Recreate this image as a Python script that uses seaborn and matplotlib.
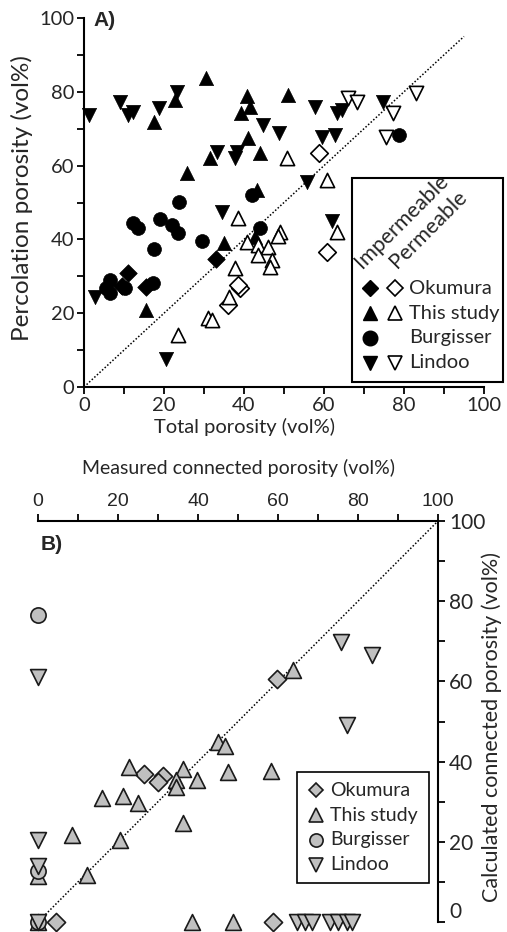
import numpy as np
import pandas as pd
import matplotlib
matplotlib.use("Agg")
import matplotlib.pyplot as plt
import seaborn as sns
from matplotlib.lines import Line2D
from matplotlib.patches import Rectangle

# ---------------- Panel A data (total porosity, percolation porosity) ----------------
oku_imp_x = [11.0, 9.5, 15.5, 33.0]
oku_imp_y = [30.9, 27.5, 27.0, 34.7]
oku_perm_x = [58.8, 60.8, 39.0, 38.5, 36.0]
oku_perm_y = [63.4, 36.6, 26.8, 27.6, 22.2]

this_imp_x = [22.8, 30.5, 17.5, 40.7, 41.5, 39.3, 51.0, 41.0, 31.5, 44.0, 25.7, 43.2, 42.8, 35.0, 15.5]
this_imp_y = [77.8, 83.7, 71.8, 78.9, 75.9, 74.3, 79.1, 67.5, 62.0, 63.4, 58.0, 53.4, 40.6, 39.0, 20.9]
this_perm_x = [50.7, 38.5, 60.7, 63.3, 49.0, 48.5, 40.7, 43.5, 46.0, 43.5, 47.0, 46.5, 37.7, 36.3, 31.0, 32.0, 23.5]
this_perm_y = [62.0, 45.8, 56.1, 42.0, 42.0, 41.0, 39.3, 38.5, 38.0, 35.8, 34.4, 32.5, 32.2, 24.4, 18.7, 18.2, 14.1]

burg_x = [12.3, 13.5, 19.0, 22.0, 23.5, 29.5, 17.5, 23.8, 42.0, 44.0, 6.5, 5.5, 6.5, 10.3, 17.3, 78.8]
burg_y = [44.4, 43.0, 45.5, 43.9, 41.7, 39.6, 37.4, 50.1, 52.0, 43.0, 29.0, 26.8, 25.5, 26.8, 28.2, 68.3]

lin_imp_x = [1.25, 9.0, 11.0, 12.3, 18.8, 23.3, 44.8, 48.8, 33.2, 38.2, 37.8, 34.5, 57.8, 63.2, 64.5,
             74.8, 59.5, 62.8, 55.8, 62.0, 20.5, 2.7]
lin_imp_y = [73.7, 77.2, 73.7, 74.5, 75.6, 80.0, 71.0, 68.8, 63.7, 63.7, 62.0, 47.4, 75.9, 74.3, 75.0,
             77.2, 67.8, 68.3, 55.6, 45.0, 7.6, 24.4]
lin_perm_x = [66.0, 68.2, 77.2, 83.0, 75.5]
lin_perm_y = [78.3, 77.2, 74.3, 79.7, 67.8]

# ---------------- Panel B data (measured vs calculated connected porosity) ----------------
okuB_x = [59.8, 26.5, 31.3, 30.0, 4.5, 58.8]
okuB_y = [60.6, 36.8, 36.5, 34.8, 0.0, 0.0]
thisB_x = [63.7, 45.0, 46.8, 47.5, 22.8, 36.3, 34.5, 34.4, 39.7, 16.0, 21.3, 25.0, 36.2, 8.5, 20.5,
           12.2, 58.2, 0.0, 0.0, 38.5, 48.8]
thisB_y = [62.8, 44.8, 44.0, 37.4, 38.7, 38.2, 35.4, 33.6, 35.4, 30.9, 31.4, 29.7, 24.7, 21.8, 20.4,
           11.7, 37.6, 11.5, 0.0, 0.0, 0.0]
burgB_x = [0.0, 0.0, 0.0]
burgB_y = [76.6, 12.8, 0.0]
linB_x = [0.0, 75.8, 83.5, 77.2, 0.0, 0.0, 0.0, 64.7, 66.8, 68.5, 73.0, 75.0, 77.2, 78.5]
linB_y = [61.1, 69.8, 66.6, 49.1, 20.4, 14.0, 0.0, 0.0, 0.0, 0.0, 0.0, 0.0, 0.0, 0.0]

ticks = [0, 20, 40, 60, 80, 100]
minor = [10, 30, 50, 70, 90]
labels_src = ["Okumura", "This study", "Burgisser", "Lindoo"]
markers = {"Okumura": "D", "This study": "^", "Burgisser": "o", "Lindoo": "v"}
sizes_A = {"Okumura": 80, "This study": 105, "Burgisser": 100, "Lindoo": 105}
sizes_B = {"Okumura": 85, "This study": 130, "Burgisser": 120, "Lindoo": 130}

sns.set_style("white")
plt.rcParams['font.family'] = ['Lato', 'DejaVu Sans']

W, H = 507, 932
fig = plt.figure(figsize=(W / 100, H / 100), dpi=100)


def P(px, py):
    return (px / W, 1 - py / H)


axA = fig.add_axes([84 / W, 1 - 387 / H, 400 / W, 369 / H])
axB = fig.add_axes([38 / W, 1 - 922 / H, 400 / W, 401 / H])

# ---- Panel A ----
groupsA = [
    ("Okumura", oku_imp_x, oku_imp_y, True), ("Okumura", oku_perm_x, oku_perm_y, False),
    ("This study", this_imp_x, this_imp_y, True), ("This study", this_perm_x, this_perm_y, False),
    ("Burgisser", burg_x, burg_y, True),
    ("Lindoo", lin_imp_x, lin_imp_y, True), ("Lindoo", lin_perm_x, lin_perm_y, False),
]
axA.plot([0, 95], [0, 95], color="black", lw=1.1, ls=(0, (1, 1.3)), zorder=1)
for src, xs, ys, filled in groupsA:
    df = pd.DataFrame({"x": xs, "y": ys})
    sns.scatterplot(data=df, x="x", y="y", ax=axA, marker=markers[src], s=sizes_A[src],
                    color="black" if filled else "white", edgecolor="black",
                    linewidth=0.5 if filled else 1.2, clip_on=False, zorder=3, legend=False)

axA.set_xlim(0, 100)
axA.set_ylim(0, 100)
axA.set_xticks(ticks)
axA.set_yticks(ticks)
axA.set_xticks(minor, minor=True)
axA.set_yticks(minor, minor=True)
for s in ["top", "right"]:
    axA.spines[s].set_visible(False)
for s in ["left", "bottom"]:
    axA.spines[s].set_linewidth(1.5)
    axA.spines[s].set_color("black")
axA.tick_params(which="both", direction="out", length=5, width=1.3, color="black",
                labelsize=14.5, left=True, bottom=True, pad=2)
axA.set_xlabel("Total porosity (vol%)", fontsize=14.5)
axA.xaxis.set_label_coords((245 - 84) / 400, (387 - 427) / 369)
axA.xaxis.label.set_va("center")
axA.set_ylabel("Percolation porosity (vol%)", fontsize=17.5)
axA.yaxis.set_label_coords((22 - 84) / 400, (387 - 198) / 369)
axA.yaxis.label.set_va("center")
fig.text(*P(93, 11), "A)", fontsize=15, fontweight="bold", family="Liberation Sans",
         ha="left", va="top")

# Panel A legend (manual)
fig.add_artist(Rectangle(P(352, 382), 151 / W, 204 / H, transform=fig.transFigure,
                         fill=False, edgecolor="black", lw=1.5))
fig.text(*P(362, 269), "Impermeable", rotation=45, rotation_mode="anchor",
         ha="left", va="baseline", fontsize=15.5)
fig.text(*P(397, 269), "Permeable", rotation=45, rotation_mode="anchor",
         ha="left", va="baseline", fontsize=15.5)
rowsA = [("Okumura", True), ("This study", True), ("Burgisser", False), ("Lindoo", True)]
msA = {"Okumura": 8, "This study": 10, "Burgisser": 10.5, "Lindoo": 10}
for i, (src, has_open) in enumerate(rowsA):
    py = 288 + 25 * i
    fig.add_artist(Line2D([P(370, py)[0]], [P(370, py)[1]], transform=fig.transFigure,
                          marker=markers[src], ms=msA[src], mfc="black", mec="black", ls="none"))
    if has_open:
        fig.add_artist(Line2D([P(395, py)[0]], [P(395, py)[1]], transform=fig.transFigure,
                              marker=markers[src], ms=msA[src], mfc="white", mec="black",
                              mew=1.2, ls="none"))
    fig.text(*P(409, py), src, fontsize=14.5, ha="left", va="center")

# ---- Panel B ----
groupsB = [("Okumura", okuB_x, okuB_y), ("This study", thisB_x, thisB_y),
           ("Burgisser", burgB_x, burgB_y), ("Lindoo", linB_x, linB_y)]
axB.plot([0, 100], [0, 100], color="black", lw=1.1, ls=(0, (1, 1.3)), zorder=1)
for src, xs, ys in groupsB:
    df = pd.DataFrame({"x": xs, "y": ys})
    sns.scatterplot(data=df, x="x", y="y", ax=axB, marker=markers[src], s=sizes_B[src],
                    color="#c0c0c0", edgecolor="#1a1a1a", linewidth=1.2,
                    clip_on=False, zorder=3, legend=False)
axB.set_xlim(0, 100)
axB.set_ylim(0, 100)
axB.set_xticks(ticks)
axB.set_yticks(ticks)
axB.set_xticks(minor, minor=True)
axB.set_yticks(minor, minor=True)
for s in ["bottom", "left"]:
    axB.spines[s].set_visible(False)
for s in ["top", "right"]:
    axB.spines[s].set_linewidth(1.5)
    axB.spines[s].set_color("black")
axB.xaxis.set_ticks_position("top")
axB.xaxis.set_label_position("top")
axB.yaxis.set_ticks_position("right")
axB.yaxis.set_label_position("right")
axB.tick_params(which="both", direction="out", length=5, width=1.3, color="black",
                top=True, right=True, bottom=False, left=False, pad=3)
axB.tick_params(axis="x", labelsize=14)
axB.tick_params(axis="y", labelsize=15)
for t in axB.get_xticklabels():
    t.set_family("Liberation Sans")
ylabs = axB.get_yticklabels()
ylabs[0].set_va("bottom")
axB.set_xlabel("Measured connected porosity (vol%)", fontsize=14)
axB.xaxis.set_label_coords((238 - 38) / 400, (922 - 468) / 401)
axB.xaxis.label.set_va("center")
axB.set_ylabel("Calculated connected porosity (vol%)", fontsize=15.5)
axB.yaxis.set_label_coords((492 - 38) / 400, (922 - 727) / 401)
axB.yaxis.label.set_va("center")
axB.yaxis.label.set_ha("center")
fig.text(*P(41, 535), "B)", fontsize=15, fontweight="bold", family="Liberation Sans",
         ha="left", va="top")

# Panel B legend (manual)
fig.add_artist(Rectangle(P(297, 883), 132 / W, 111 / H, transform=fig.transFigure,
                         fill=False, edgecolor="black", lw=1.2))
msB = {"Okumura": 7.5, "This study": 10, "Burgisser": 9.5, "Lindoo": 10}
for i, src in enumerate(labels_src):
    py = 790 + 25 * i
    fig.add_artist(Line2D([P(316, py)[0]], [P(316, py)[1]], transform=fig.transFigure,
                          marker=markers[src], ms=msB[src], mfc="#c0c0c0", mec="#1a1a1a",
                          mew=1.2, ls="none"))
    fig.text(*P(330, py), src, fontsize=14, ha="left", va="center")

fig.savefig("out.png", dpi=100)
